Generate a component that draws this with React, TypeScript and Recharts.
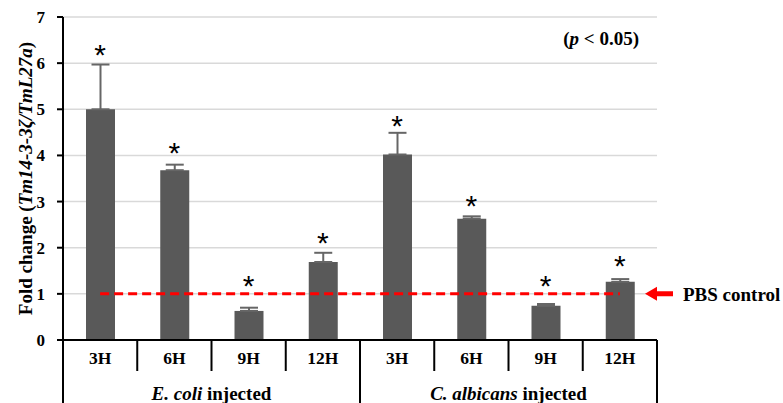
import React from 'react';
import {
  ComposedChart, Bar, Line, XAxis, YAxis, CartesianGrid, ErrorBar, LabelList, ReferenceLine,
} from 'recharts';

const CATEGORIES = ['3H', '6H', '9H', '12H', '3H', '6H', '9H', '12H'];
const GROUPS = [
  { italic: 'E. coli', rest: ' injected' },
  { italic: 'C. albicans', rest: ' injected' },
];
const FOLD_CHANGE = [5.0, 3.68, 0.63, 1.69, 4.02, 2.63, 0.74, 1.26];
const ERROR_UP = [0.97, 0.12, 0.07, 0.2, 0.47, 0.05, 0.04, 0.06];
// where the significance asterisks sit
const STAR_LEVEL = [6.24, 4.12, 1.24, 2.17, 4.7, 2.97, 1.24, 1.67];
const PBS_CONTROL = 1;
const Y_TICKS = [0, 1, 2, 3, 4, 5, 6, 7];

const W = 783;
const H = 403;
const SERIF = "'Liberation Serif', 'Times New Roman', serif";

const data = CATEGORIES.map((label, i) => ({
  key: `c${i}`,
  label,
  value: FOLD_CHANGE[i],
  err: [0, ERROR_UP[i]],
  star: STAR_LEVEL[i],
  pbs: PBS_CONTROL,
}));

const XTick = (props: any) => {
  const { x, y, payload, index } = props;
  const i = index ?? payload.index;
  const half = payload.offset || 37;
  const left = x - half;
  const right = x + half;
  const groupStart = i % 4 === 0;
  return (
    <g>
      <line x1={left} x2={left} y1={y} y2={groupStart ? H : y + 31} stroke="#000" strokeWidth={2} />
      {i === CATEGORIES.length - 1 && (
        <line x1={right} x2={right} y1={y} y2={H} stroke="#000" strokeWidth={2} />
      )}
      <text x={x} y={y + 24} textAnchor="middle" fontFamily={SERIF} fontWeight="bold" fontSize={17.5} fill="#000">
        {data[i].label}
      </text>
      {i % 4 === 1 && (
        <text x={right} y={y + 60} textAnchor="middle" fontFamily={SERIF} fontWeight="bold" fontSize={19} fill="#000">
          <tspan fontStyle="italic">{GROUPS[Math.floor(i / 4)].italic}</tspan>
          <tspan>{GROUPS[Math.floor(i / 4)].rest}</tspan>
        </text>
      )}
    </g>
  );
};

const Star = (props: any) => {
  const { x, y } = props;
  return (
    <text x={x} y={y + 13} textAnchor="middle" fontFamily="'Liberation Sans', Arial, sans-serif" fontSize={30} fill="#000">
      *
    </text>
  );
};

const YLabel = (props: any) => {
  const { viewBox } = props;
  const cy = viewBox.y + viewBox.height / 2;
  return (
    <text x={25} y={cy} transform={`rotate(-90, 25, ${cy})`} textAnchor="middle" dominantBaseline="central"
      fontFamily={SERIF} fontWeight="bold" fontSize={19} fill="#000">
      <tspan>Fold change (</tspan>
      <tspan fontStyle="italic">Tm14-3-3ζ/TmL27a</tspan>
      <tspan>)</tspan>
    </text>
  );
};

const PbsLabel = (props: any) => {
  const { viewBox } = props;
  const tip = viewBox.x + viewBox.width - 12;
  const y = viewBox.y;
  return (
    <g>
      <path d={`M${tip},${y} L${tip + 12},${y - 7} L${tip + 12},${y - 2.5} L${tip + 28},${y - 2.5} L${tip + 28},${y + 2.5} L${tip + 12},${y + 2.5} L${tip + 12},${y + 7} Z`} fill="#ff0000" />
      <text x={tip + 38} y={y + 7} fontFamily={SERIF} fontWeight="bold" fontSize={19} fill="#000">PBS control</text>
    </g>
  );
};

const PLabel = (props: any) => {
  const { viewBox } = props;
  return (
    <text x={viewBox.x + viewBox.width - 18} y={viewBox.y + 28} textAnchor="end" fontFamily={SERIF} fontWeight="bold" fontSize={19} fill="#000">
      (<tspan fontStyle="italic">p</tspan> &lt; 0.05)
    </text>
  );
};

export default function App() {
  return (
    <div style={{ position: 'absolute', left: 0, top: 0, width: W, height: H, background: '#fff' }}>
      <ComposedChart width={W} height={H} data={data} margin={{ top: 17, right: 126, bottom: 0, left: 0 }}>
        <CartesianGrid vertical={false} stroke="#d9d9d9" strokeWidth={1.5} />
        <XAxis dataKey="key" height={63} tickLine={false} tickSize={0} tickMargin={0} interval={0}
          axisLine={{ stroke: '#000', strokeWidth: 2 }} tick={<XTick />} />
        <YAxis width={63} domain={[0, 7]} ticks={Y_TICKS} interval={0} tickSize={6} tickMargin={12}
          axisLine={{ stroke: '#000', strokeWidth: 2 }} tickLine={{ stroke: '#000', strokeWidth: 2 }}
          tick={{ fill: '#000', fontFamily: SERIF, fontWeight: 'bold', fontSize: 17 }}
          label={(p: any) => <YLabel {...p} />} />
        <ReferenceLine y={7} stroke="none" label={(p: any) => <PLabel {...p} />} />
        <ReferenceLine y={PBS_CONTROL} stroke="none" label={(p: any) => <PbsLabel {...p} />} />
        <Bar dataKey="value" fill="#595959" barSize={29} isAnimationActive={false}>
          <ErrorBar dataKey="err" width={9} stroke="#666666" strokeWidth={2} isAnimationActive={false} />
        </Bar>
        <Line dataKey="pbs" stroke="#ff0000" strokeWidth={3} strokeDasharray="9 5" dot={false} activeDot={false} isAnimationActive={false} />
        <Line dataKey="star" stroke="none" dot={false} activeDot={false} isAnimationActive={false}>
          <LabelList dataKey="star" content={<Star />} />
        </Line>
      </ComposedChart>
    </div>
  );
}
